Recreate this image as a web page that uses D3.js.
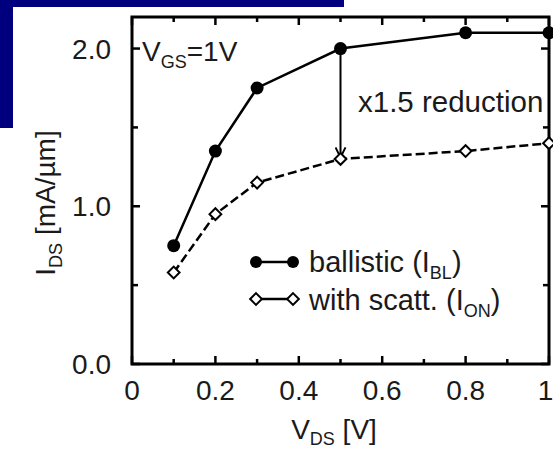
<!DOCTYPE html>
<html>
<head>
<meta charset="utf-8" />
<script src="https://d3js.org/d3.v7.min.js"></script>
<style>
  body { margin: 0; background: #fff; }
  text { font-family: "Liberation Sans", Arial, sans-serif; fill: #1a1a1a; }
</style>
</head>
<body>
<div id="chart"></div>
<script>
// --- donnees ---
var vds = [0.1, 0.2, 0.3, 0.5, 0.8, 1.0];
var ballistic = [0.75, 1.35, 1.75, 2.0, 2.1, 2.1];
var scattering = [0.58, 0.95, 1.15, 1.3, 1.35, 1.4];
var xTicks = [0, 0.2, 0.4, 0.6, 0.8, 1];
var xTickLabels = ["0", "0.2", "0.4", "0.6", "0.8", "1"];
var yTicks = [0, 1, 2];
var yTickLabels = ["0.0", "1.0", "2.0"];

var W = 553, H = 449;
var m = {left: 132, right: 4, top: 17, bottom: 85};

var svg = d3.select("#chart").append("svg")
    .attr("width", W).attr("height", H);

// bandeau bleu (fond de diapo)
svg.append("rect").attr("x", 0).attr("y", 0).attr("width", 344).attr("height", 7).attr("fill", "#00007f");
svg.append("rect").attr("x", 0).attr("y", 0).attr("width", 13).attr("height", 128).attr("fill", "#00007f");

var x = d3.scaleLinear().domain([0, 1]).range([m.left, W - m.right]);
var y = d3.scaleLinear().domain([0, 2.2]).range([H - m.bottom, m.top]);

// ticks (vers l'interieur, sur les 4 cotes)
var g = svg.append("g");
d3.range(0, 1.0001, 0.1).forEach(function(t, i) {
    var len = (i % 2 === 0) ? 8 : 5;
    g.append("line").attr("x1", x(t)).attr("x2", x(t))
        .attr("y1", y(0)).attr("y2", y(0) - len);
    g.append("line").attr("x1", x(t)).attr("x2", x(t))
        .attr("y1", y(2.2)).attr("y2", y(2.2) + len);
});
d3.range(0, 2.2001, 0.5).forEach(function(t, i) {
    var len = (i % 2 === 0) ? 8 : 6;
    g.append("line").attr("y1", y(t)).attr("y2", y(t))
        .attr("x1", x(0)).attr("x2", x(0) + len);
    g.append("line").attr("y1", y(t)).attr("y2", y(t))
        .attr("x1", x(1)).attr("x2", x(1) - len);
});
g.selectAll("line").attr("stroke", "#000").attr("stroke-width", 2.5);

// cadre
svg.append("rect")
    .attr("x", x(0)).attr("y", y(2.2))
    .attr("width", x(1) - x(0)).attr("height", y(0) - y(2.2))
    .attr("fill", "none").attr("stroke", "#000").attr("stroke-width", 3);

// labels des ticks (le "1" colle au bord droit, decale un peu)
svg.selectAll(".xl").data(xTicks).enter().append("text")
    .attr("x", d => d === 1 ? x(d) - 3.5 : x(d)).attr("y", y(0) + 36)
    .attr("text-anchor", "middle").attr("font-size", 28)
    .text((d, i) => xTickLabels[i]);
svg.selectAll(".yl").data(yTicks).enter().append("text")
    .attr("x", x(0) - 21).attr("y", d => y(d) + 10)
    .attr("text-anchor", "end").attr("font-size", 28)
    .text((d, i) => yTickLabels[i]);

// titres des axes
var xt = svg.append("text").attr("x", 334).attr("y", 439)
    .attr("text-anchor", "middle").attr("font-size", 28);
xt.append("tspan").text("V");
xt.append("tspan").attr("font-size", 18).attr("dy", 6).text("DS");
xt.append("tspan").attr("dy", -6).text(" [V]");

var yt = svg.append("text").attr("transform", "translate(55,203) rotate(-90)")
    .attr("text-anchor", "middle").attr("font-size", 28);
yt.append("tspan").text("I");
yt.append("tspan").attr("font-size", 18).attr("dy", 7).text("DS");
yt.append("tspan").attr("dy", -7).text(" [mA/\u00b5m]");

// courbes
var line = d3.line().x((d, i) => x(vds[i])).y(d => y(d));
svg.append("path").datum(scattering).attr("d", line)
    .attr("fill", "none").attr("stroke", "#000").attr("stroke-width", 2.5)
    .attr("stroke-dasharray", "9,4");
svg.append("path").datum(ballistic).attr("d", line)
    .attr("fill", "none").attr("stroke", "#000").attr("stroke-width", 2.5);

// fleche de reduction
svg.append("defs").append("marker").attr("id", "arr")
    .attr("viewBox", "0 0 12 12").attr("refX", 11).attr("refY", 6)
    .attr("markerWidth", 12).attr("markerHeight", 12)
    .attr("markerUnits", "userSpaceOnUse").attr("orient", "auto")
    .append("path").attr("d", "M1,1 L11,6 L1,11")
    .attr("fill", "none").attr("stroke", "#000").attr("stroke-width", 2);
svg.append("line").attr("x1", x(0.5)).attr("x2", x(0.5))
    .attr("y1", y(2.0)).attr("y2", y(1.31))
    .attr("stroke", "#000").attr("stroke-width", 2).attr("marker-end", "url(#arr)");

// marqueurs
var diamond = d3.symbol().type(d3.symbolDiamond2).size(88);
svg.selectAll(".sc").data(scattering).enter().append("path")
    .attr("transform", (d, i) => "translate(" + x(vds[i]) + "," + y(d) + ")")
    .attr("d", diamond).attr("fill", "#fff").attr("stroke", "#000").attr("stroke-width", 2);
svg.selectAll(".bl").data(ballistic).enter().append("circle")
    .attr("cx", (d, i) => x(vds[i])).attr("cy", d => y(d)).attr("r", 6.5)
    .attr("fill", "#000");

// annotations
var vg = svg.append("text").attr("x", 142).attr("y", 61).attr("font-size", 28);
vg.append("tspan").text("V");
vg.append("tspan").attr("font-size", 18).attr("dy", 7).text("GS");
vg.append("tspan").attr("dy", -7).text("=1V");

svg.append("text").attr("x", 358).attr("y", 112).attr("font-size", 29.5).text("x1.5 reduction");

// legende
var leg = svg.append("g");
leg.append("line").attr("x1", 256).attr("x2", 293).attr("y1", 262).attr("y2", 262)
    .attr("stroke", "#000").attr("stroke-width", 2.5);
leg.append("circle").attr("cx", 256).attr("cy", 262).attr("r", 6).attr("fill", "#000");
leg.append("circle").attr("cx", 293).attr("cy", 262).attr("r", 6).attr("fill", "#000");
leg.append("line").attr("x1", 256).attr("x2", 293).attr("y1", 299).attr("y2", 299)
    .attr("stroke", "#000").attr("stroke-width", 2.5);
[256, 293].forEach(function(cx) {
    leg.append("path").attr("transform", "translate(" + cx + ",299)")
        .attr("d", diamond).attr("fill", "#fff").attr("stroke", "#000").attr("stroke-width", 2);
});
var t1 = leg.append("text").attr("x", 309).attr("y", 272).attr("font-size", 29);
t1.append("tspan").text("ballistic (I");
t1.append("tspan").attr("font-size", 18).attr("dy", 7).text("BL");
t1.append("tspan").attr("dy", -7).text(")");
var t2 = leg.append("text").attr("x", 309).attr("y", 310).attr("font-size", 29);
t2.append("tspan").text("with scatt. (I");
t2.append("tspan").attr("font-size", 18).attr("dy", 7).text("ON");
t2.append("tspan").attr("dy", -7).text(")");
</script>
</body>
</html>
